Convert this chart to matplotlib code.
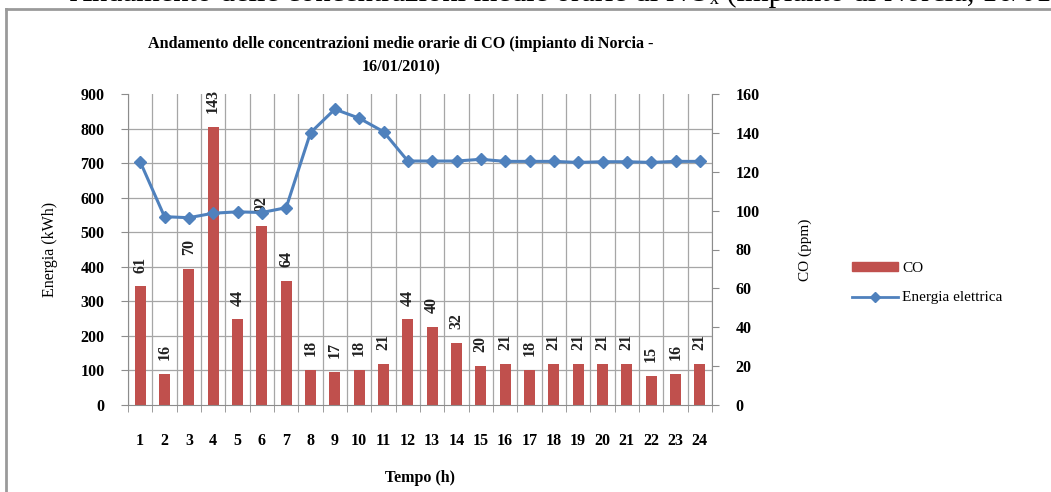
import numpy as np
import matplotlib
matplotlib.use("Agg")
import matplotlib.pyplot as plt
from matplotlib.lines import Line2D

hours = list(range(1, 25))
co_ppm = [61, 16, 70, 143, 44, 92, 64, 18, 17, 18, 21, 44, 40, 32, 20, 21, 18, 21, 21, 21, 21, 15, 16, 21]
energia_kwh = [704, 545, 542, 555, 559, 557, 571, 788, 856, 830, 791, 706, 706, 706, 711, 705, 705, 705, 702, 704, 704, 702, 705, 705]

title = "Andamento delle concentrazioni medie orarie di CO (impianto di Norcia -\n16/01/2010)"
caption = "Andamento delle concentrazioni medie orarie di NOₓ (impianto di Norcia, 16/01/2010)"

SERIF = ["Liberation Serif", "DejaVu Serif"]
plt.rcParams["font.family"] = SERIF

W, H = 1051, 492
fig = plt.figure(figsize=(W / 100, H / 100), dpi=100)
fig.patch.set_facecolor("white")

RED = "#C0504D"
BLUE = "#4F81BD"
GRID = "#a6a6a6"
SPINE = "#8c8c8c"

L, R, B, T = 128, 712, 405, 94
ax = fig.add_axes([L / W, 1 - B / H, (R - L) / W, (B - T) / H])

# bars (CO) on primary axis
x = np.array(hours)
ax.bar(x, co_ppm, width=0.45, color=RED, zorder=2)
ax.set_xlim(0.5, 24.5)
ax.set_ylim(0, 160)
ax.set_yticks(np.arange(0, 161, 20))
ax.set_yticks(np.linspace(0, 160, 10), minor=True)
ax.set_xticks(x)
ax.set_xticklabels([str(h) for h in hours])
ax.set_xticks(np.arange(0.5, 25, 1), minor=True)
ax.grid(True, which="minor", color=GRID, lw=0.9)
ax.grid(False, which="major")
ax.set_axisbelow(True)

for xi, v in zip(x, co_ppm):
    ax.annotate(str(v), (xi, v), xytext=(0, 10), textcoords="offset points",
                ha="center", va="bottom", rotation=90, fontsize=11.5,
                fontweight="bold", color="#222222", clip_on=False, zorder=3)

# line (Energia) on twin axis
ax2 = ax.twinx()
ax2.plot(x, energia_kwh, color=BLUE, lw=2.2, marker="D", markersize=6, zorder=5)
ax2.set_ylim(0, 900)
ax2.set_yticks(np.arange(0, 901, 100))

# axis sides: CO on right, energy on left
ax.yaxis.tick_right()
ax.yaxis.set_label_position("right")
ax2.yaxis.tick_left()
ax2.yaxis.set_label_position("left")

ax.set_ylabel("CO (ppm)", fontsize=11, labelpad=28)
ax2.set_ylabel("Energia (kWh)", fontsize=11.5, labelpad=16)
ax.set_xlabel("Tempo (h)", fontsize=11.5, fontweight="bold", labelpad=15)

ax.tick_params(axis="x", which="major", length=0, pad=20, labelsize=11.5)
ax.tick_params(axis="x", which="minor", length=5, color=SPINE, direction="out")
ax.tick_params(axis="y", which="major", length=5, color=SPINE, pad=12, labelsize=11.5)
ax.tick_params(axis="y", which="minor", length=0)
ax2.tick_params(axis="y", length=5, color=SPINE, pad=12, labelsize=11.5)
for lab in ax.get_xticklabels() + ax.get_yticklabels() + ax2.get_yticklabels():
    lab.set_fontweight("bold")

for s in ["top", "left"]:
    ax.spines[s].set_visible(False)
for s in ["right", "bottom"]:
    ax.spines[s].set_color(SPINE)
for s in ["top", "right", "bottom"]:
    ax2.spines[s].set_visible(False)
ax2.spines["left"].set_color(SPINE)

fig.text(401 / W, 1 - 56 / H, title, ha="center", va="center", fontsize=11.6,
         fontweight="bold", linespacing=1.6)

handles = [
    plt.Rectangle((0, 0), 1, 1, color=RED),
    Line2D([], [], color=BLUE, lw=2, marker="D", markersize=5),
]
fig.legend(handles, ["CO", "Energia elettrica"], loc="center left",
           bbox_to_anchor=(838 / W, 1 - 283 / H), frameon=False, fontsize=11,
           handlelength=3.0, handleheight=0.5, labelspacing=1.1, handletextpad=0.3)

# clipped caption line at top (document text above the chart)
fig.text(70 / W, 1 - 1.0 / H, caption, ha="left", va="baseline", fontsize=22, color="black")

# frame of the chart
fig.add_artist(Line2D([6 / W, 6 / W], [0, 1 - 9 / H], color="#9a9a9a", lw=2))
fig.add_artist(Line2D([6 / W, 1], [1 - 9 / H, 1 - 9 / H], color="#9a9a9a", lw=2))

fig.savefig("out.png", dpi=100, facecolor="white")
